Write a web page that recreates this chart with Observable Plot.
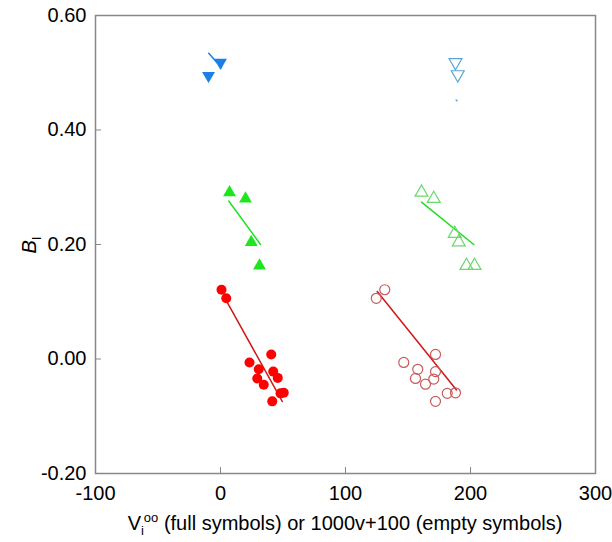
<!DOCTYPE html>
<html><head><meta charset="utf-8">
<script src="https://cdn.jsdelivr.net/npm/d3@7"></script>
<script src="https://cdn.jsdelivr.net/npm/@observablehq/plot@0.6"></script>
<style>body{margin:0;background:#fff}</style>
</head><body><div id="chart"></div>
<script>
const xTicks = [-100, 0, 100, 200, 300];
const yTicks = [-0.2, 0, 0.2, 0.4, 0.6];

const blueFullX = [0.0, -9.6];
const blueFullY = [0.518, 0.495];
const blueEmptyX = [188.0, 189.8];
const blueEmptyY = [0.518, 0.497];
const greenFullX = [7.2, 20.0, 24.6, 31.2];
const greenFullY = [0.291, 0.280, 0.204, 0.163];
const greenEmptyX = [160.8, 170.6, 187.4, 190.6, 196.8, 203.2];
const greenEmptyY = [0.291, 0.280, 0.219, 0.204, 0.163, 0.163];
const redFullX = [0.8, 4.6, 23.2, 40.6, 30.6, 42.2, 29.4, 45.8, 34.6, 48.0, 50.6, 41.4];
const redFullY = [0.121, 0.106, -0.006, 0.008, -0.018, -0.022, -0.034, -0.033, -0.045, -0.060, -0.059, -0.074];
const redEmptyX = [131.4, 124.6, 146.6, 172.0, 157.8, 172.0, 156.0, 170.6, 164.0, 181.4, 188.0, 172.0];
const redEmptyY = [0.121, 0.106, -0.006, 0.008, -0.018, -0.022, -0.034, -0.035, -0.044, -0.060, -0.059, -0.074];

const blueFullLineX = [-9.4, 0.6], blueFullLineY = [0.534, 0.509];
const blueEmptyLineX = [188.5, 189.2], blueEmptyLineY = [0.4525, 0.451];
const greenFullLineX = [6.6, 32.0], greenFullLineY = [0.276, 0.200];
const greenEmptyLineX = [160.8, 202.6], greenEmptyLineY = [0.274, 0.200];
const redFullLineX = [5.4, 49.4], redFullLineY = [0.099, -0.074];
const redEmptyLineX = [125.4, 188.8], redEmptyLineY = [0.118, -0.054];

const pts = (xs, ys) => xs.map((x, i) => ({x, y: ys[i]}));
const FONT = "Liberation Sans, Arial, sans-serif";

const chart = Plot.plot({
  width: 612, height: 542,
  marginLeft: 95, marginRight: 17, marginTop: 15, marginBottom: 69,
  style: {fontFamily: FONT, fontSize: "20px", background: "#fff", color: "#000", overflow: "visible"},
  x: {domain: [-100, 300]},
  y: {domain: [-0.2, 0.6]},
  marks: [
    Plot.frame({stroke: "#888", strokeWidth: 1.5}),
    Plot.axisX(xTicks, {tickSize: -6, tickPadding: 18, stroke: "#888", fill: "#000", tickFormat: d => String(d), label: null}),
    Plot.axisY(yTicks, {tickSize: -6, tickPadding: 15, stroke: "#888", fill: "#000", tickFormat: d => d.toFixed(2), label: null}),
    Plot.line(pts(blueFullLineX, blueFullLineY), {x: "x", y: "y", stroke: "#1a7fe6", strokeWidth: 1.5}),
    Plot.line(pts(blueEmptyLineX, blueEmptyLineY), {x: "x", y: "y", stroke: "#5aa4d8", strokeWidth: 1.5}),
    Plot.line(pts(greenFullLineX, greenFullLineY), {x: "x", y: "y", stroke: "#22e022", strokeWidth: 1.5}),
    Plot.line(pts(greenEmptyLineX, greenEmptyLineY), {x: "x", y: "y", stroke: "#22dd22", strokeWidth: 1.5}),
    Plot.line(pts(redFullLineX, redFullLineY), {x: "x", y: "y", stroke: "#d01818", strokeWidth: 1.5}),
    Plot.line(pts(redEmptyLineX, redEmptyLineY), {x: "x", y: "y", stroke: "#d01818", strokeWidth: 1.5}),
    Plot.dot(pts(blueFullX, blueFullY), {x: "x", y: "y", symbol: "triangle", rotate: 180, r: 4.8, fill: "#1a7fe6", stroke: "none"}),
    Plot.dot(pts(blueEmptyX, blueEmptyY), {x: "x", y: "y", symbol: "triangle", rotate: 180, r: 4.8, fill: "none", stroke: "#5aa4d8", strokeWidth: 1.2}),
    Plot.dot(pts(greenFullX, greenFullY), {x: "x", y: "y", symbol: "triangle", r: 4.8, fill: "#1ee61e", stroke: "none"}),
    Plot.dot(pts(greenEmptyX, greenEmptyY), {x: "x", y: "y", symbol: "triangle", r: 4.8, fill: "none", stroke: "#6ad86a", strokeWidth: 1.2}),
    Plot.dot(pts(redFullX, redFullY), {x: "x", y: "y", r: 5, fill: "#ff0000", stroke: "none"}),
    Plot.dot(pts(redEmptyX, redEmptyY), {x: "x", y: "y", r: 5, fill: "none", stroke: "#c85a5a", strokeWidth: 1.2})
  ]
});
document.getElementById("chart").appendChild(chart);

const svg = d3.select(chart);
// x-axis label
const xl = svg.append("text")
  .attr("x", 345).attr("y", 530)
  .attr("text-anchor", "middle")
  .attr("font-family", FONT).attr("font-size", 20).attr("fill", "#000");
xl.append("tspan").text("V");
xl.append("tspan").attr("font-size", 13).attr("dy", 5).text("i");
xl.append("tspan").attr("font-size", 13).attr("dy", -13).text("oo");
xl.append("tspan").attr("dy", 8).text(" (full symbols) or 1000v+100 (empty symbols)");
// y-axis label
const yl = svg.append("text")
  .attr("transform", "translate(36,245) rotate(-90)")
  .attr("text-anchor", "middle")
  .attr("font-family", FONT).attr("font-size", 20).attr("fill", "#000");
yl.append("tspan").attr("font-style", "italic").text("B");
yl.append("tspan").attr("font-size", 13).attr("dy", 5).text("I");
</script>
</body></html>
